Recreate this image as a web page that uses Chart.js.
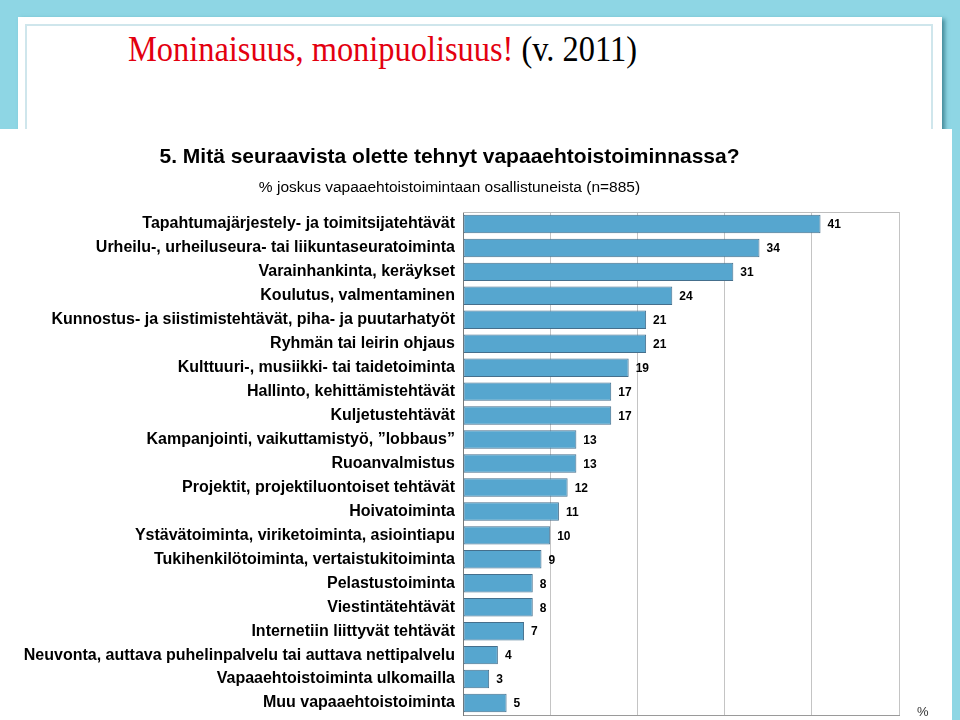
<!DOCTYPE html>
<html>
<head>
<meta charset="utf-8">
<script src="https://cdn.jsdelivr.net/npm/chart.js@4"></script>
<style>
  html, body { margin: 0; padding: 0; }
  body { width: 960px; height: 720px; overflow: hidden; position: relative; background: #8ed6e4; }
  #panel { position: absolute; left: 18px; top: 17px; width: 924px; height: 720px; background: #fff;
           box-shadow: 3px 2px 4px rgba(40, 110, 125, 0.7); }
  #panel .inner { position: absolute; left: 7px; top: 7px; right: 9px; bottom: 0; border: 2px solid #cfe6ec; border-bottom: none; }
  #slideTitle { position: absolute; left: 128px; top: 32px; margin: 0; font-family: "Liberation Serif", "Times New Roman", serif;
                font-size: 35px; line-height: 1; font-weight: normal; white-space: nowrap;
                transform: scaleX(0.926); transform-origin: left top; color: #000; }
  #slideTitle .red { color: #e3000f; }
  #chartBox { position: absolute; left: 0; top: 129px; width: 952px; height: 591px; background: #fff; }
</style>
</head>
<body>
<div id="panel"><div class="inner"></div></div>
<h1 id="slideTitle"><span class="red">Moninaisuus, monipuolisuus!</span> (v. 2011)</h1>
<div id="chartBox"><canvas id="activityChart" width="952" height="591"></canvas></div>
<script>
const categories = [
    'Tapahtumajärjestely- ja toimitsijatehtävät',
    'Urheilu-, urheiluseura- tai liikuntaseuratoiminta',
    'Varainhankinta, keräykset',
    'Koulutus, valmentaminen',
    'Kunnostus- ja siistimistehtävät, piha- ja puutarhatyöt',
    'Ryhmän tai leirin ohjaus',
    'Kulttuuri-, musiikki- tai taidetoiminta',
    'Hallinto, kehittämistehtävät',
    'Kuljetustehtävät',
    'Kampanjointi, vaikuttamistyö, ”lobbaus”',
    'Ruoanvalmistus',
    'Projektit, projektiluontoiset tehtävät',
    'Hoivatoiminta',
    'Ystävätoiminta, viriketoiminta, asiointiapu',
    'Tukihenkilötoiminta, vertaistukitoiminta',
    'Pelastustoiminta',
    'Viestintätehtävät',
    'Internetiin liittyvät tehtävät',
    'Neuvonta, auttava puhelinpalvelu tai auttava nettipalvelu',
    'Vapaaehtoistoiminta ulkomailla',
    'Muu vapaaehtoistoiminta'
];
const percentValues = [41, 34, 31, 24, 21, 21, 19, 17, 17, 13, 13, 12, 11, 10, 9, 8, 8, 7, 4, 3, 5];
const xTicks = [0, 10, 20, 30, 40, 50];

const chartTitle = '5. Mitä seuraavista olette tehnyt vapaaehtoistoiminnassa?';
const chartSubtitle = '% joskus vapaaehtoistoimintaan osallistuneista (n=885)';
const unitLabel = '%';

const fontFamily = '"Liberation Sans", Arial, sans-serif';

// value labels next to the bars, frame and the % sign
const extrasPlugin = {
    id: 'extras',
    beforeDatasetsDraw(chart) {
        const { ctx, chartArea } = chart;
        ctx.save();
        ctx.strokeStyle = '#bdbdbd';
        ctx.lineWidth = 1;
        ctx.beginPath();
        ctx.moveTo(chartArea.left, chartArea.top + 0.5);
        ctx.lineTo(chartArea.right, chartArea.top + 0.5);
        ctx.stroke();
        ctx.restore();
    },
    afterDatasetsDraw(chart) {
        const { ctx, chartArea } = chart;
        const meta = chart.getDatasetMeta(0);
        ctx.save();
        ctx.font = 'bold 12px ' + fontFamily;
        ctx.fillStyle = '#000';
        ctx.textAlign = 'left';
        ctx.textBaseline = 'middle';
        meta.data.forEach((bar, i) => {
            ctx.fillText(String(percentValues[i]), bar.x + 7, bar.y + 1);
        });
        ctx.font = '13px ' + fontFamily;
        ctx.fillStyle = '#333';
        ctx.fillText(unitLabel, chartArea.right + 18, chartArea.bottom - 3);
        ctx.restore();
    }
};

const ctx = document.getElementById('activityChart').getContext('2d');
const activityChart = new Chart(ctx, {
    type: 'bar',
    data: {
        labels: categories,
        datasets: [{
            data: percentValues,
            backgroundColor: '#56a6cf',
            borderColor: '#456f8c',
            borderWidth: 1,
            borderSkipped: false,
            barPercentage: 0.77,
            categoryPercentage: 1
        }]
    },
    options: {
        indexAxis: 'y',
        responsive: false,
        animation: false,
        layout: { padding: { left: 0, right: 53, top: 0, bottom: 0 } },
        plugins: {
            legend: { display: false },
            tooltip: { enabled: false },
            title: {
                display: true,
                text: chartTitle,
                color: '#000',
                font: { family: fontFamily, size: 21, weight: 'bold', lineHeight: 1.2 },
                padding: { top: 16, bottom: 6 }
            },
            subtitle: {
                display: true,
                text: chartSubtitle,
                color: '#000',
                font: { family: fontFamily, size: 15.5, lineHeight: 1.2 },
                padding: { top: 2.5, bottom: 14.7 }
            }
        },
        scales: {
            x: {
                min: 0,
                max: 50,
                afterBuildTicks: scale => { scale.ticks = xTicks.map(v => ({ value: v })); },
                ticks: { display: false },
                grid: { color: '#c4c4c4', drawTicks: false },
                border: { color: '#9a9a9a' },
                afterFit: scale => { scale.height = 5; }
            },
            y: {
                grid: { display: false, drawTicks: false },
                border: { color: '#7a7a7a' },
                ticks: {
                    color: '#000',
                    padding: 8,
                    font: { family: fontFamily, size: 16, weight: 'bold' }
                },
                afterFit: scale => {
                    scale.width = 463;
                    scale.paddingTop = 0;
                    scale.paddingBottom = 0;
                }
            }
        }
    },
    plugins: [extrasPlugin]
});
</script>
</body>
</html>
